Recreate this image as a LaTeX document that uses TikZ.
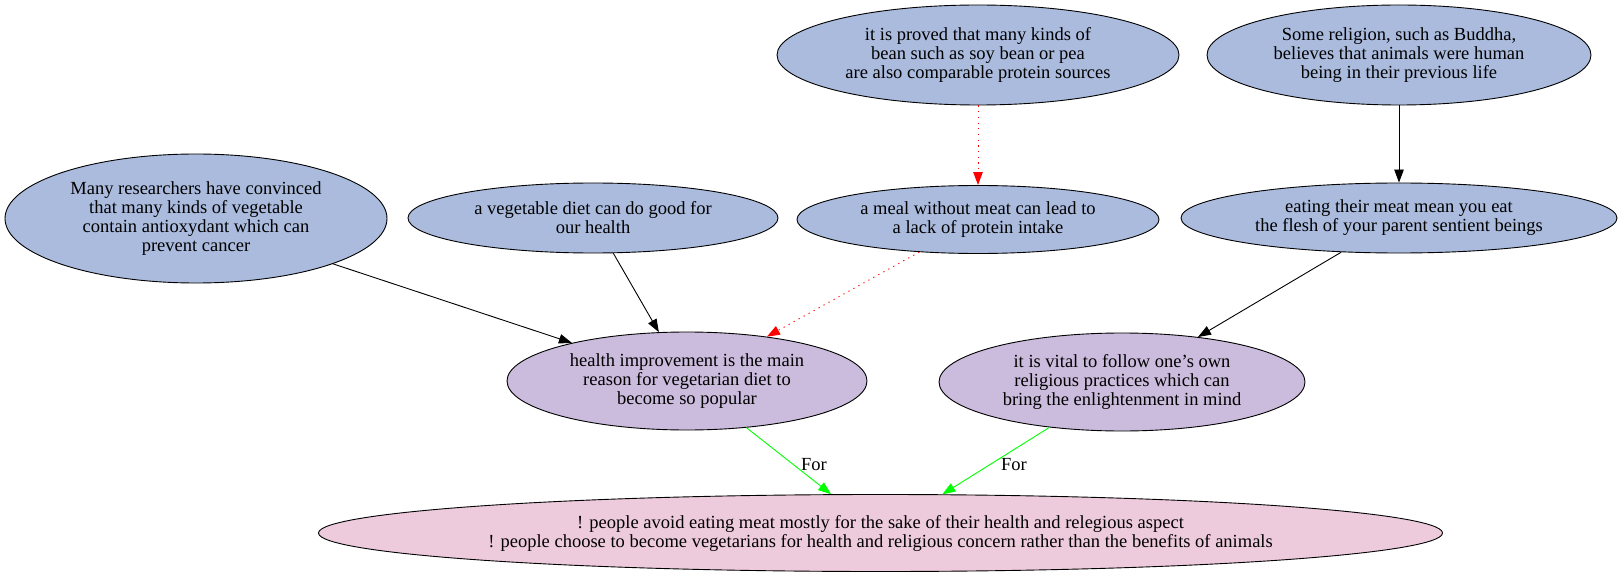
\documentclass[tikz,border=0pt]{standalone}
\usepackage{fontspec}
\setmainfont{Liberation Serif}
\usetikzlibrary{shapes.geometric,arrows.meta}
\definecolor{nblue}{RGB}{170,187,221}
\definecolor{npurple}{RGB}{203,187,220}
\definecolor{npink}{RGB}{238,203,220}
\definecolor{ngreen}{RGB}{0,255,0}
\begin{document}
\begin{tikzpicture}[x=1pt,y=-1pt,
  every node/.style={font=\fontsize{18.5}{19}\selectfont},
  arg/.style={ellipse,draw=black,line width=0.9pt,inner sep=0pt,align=center},
  ebox/.style={arg,fill=nblue},
  cbox/.style={arg,fill=npurple},
  tbox/.style={arg,fill=npink},
  conn/.style={line width=0.9pt,-{Triangle[length=13pt,width=9.5pt]}},
  redconn/.style={conn,red,dash pattern=on 1.2pt off 4.5pt},
  forconn/.style={conn,ngreen},
  lbl/.style={fill=none,inner sep=1pt}
]
\useasboundingbox (0,0) rectangle (1621,577);
\node[ebox,minimum width=382pt,minimum height=129pt] (many) at (196,218.5)
  {Many researchers have convinced\\that many kinds of vegetable\\contain antioxydant which can\\prevent cancer};
\node[ebox,minimum width=370pt,minimum height=70pt] (veg) at (593,218)
  {a vegetable diet can do good for\\our health};
\node[ebox,minimum width=402pt,minimum height=100pt] (proved) at (978,55)
  {it is proved that many kinds of\\bean such as soy bean or pea\\are also comparable protein sources};
\node[ebox,minimum width=362pt,minimum height=68pt] (meal) at (978,219.5)
  {a meal without meat can lead to\\a lack of protein intake};
\node[ebox,minimum width=384pt,minimum height=100pt] (relig) at (1399,55)
  {Some religion, such as Buddha,\\believes that animals were human\\being in their previous life};
\node[ebox,minimum width=436pt,minimum height=70pt] (eat) at (1399,218)
  {eating their meat mean you eat\\the flesh of your parent sentient beings};
\node[cbox,minimum width=360pt,minimum height=98pt] (health) at (687,381)
  {health improvement is the main\\reason for vegetarian diet to\\become so popular};
\node[cbox,minimum width=366pt,minimum height=98pt] (vital) at (1122,382)
  {it is vital to follow one{\char"0027}s own\\religious practices which can\\bring the enlightenment in mind};
\node[tbox,minimum width=1124pt,minimum height=77pt] (main) at (880.5,533)
  {! people avoid eating meat mostly for the sake of their health and relegious aspect\\! people choose to become vegetarians for health and religious concern rather than the benefits of animals};

\draw[conn] (many) -- (health);
\draw[conn] (veg) -- (health);
\draw[redconn] (meal) -- (health);
\draw[redconn] (proved) -- (meal);
\draw[conn] (relig) -- (eat);
\draw[conn] (eat) -- (vital);
\draw[forconn] (health) -- (main);
\draw[forconn] (vital) -- (main);
\node[lbl] (for1) at (814,465) {For};
\node[lbl] (for2) at (1014,465) {For};
\end{tikzpicture}
\end{document}
